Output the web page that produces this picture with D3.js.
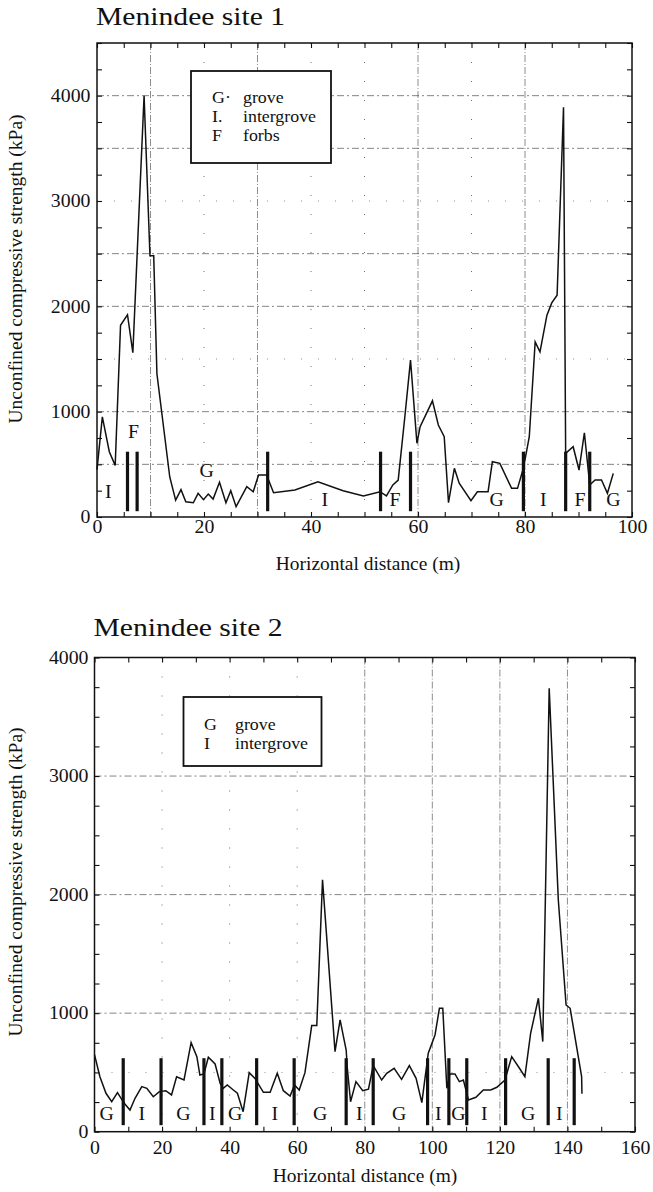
<!DOCTYPE html>
<html>
<head>
<meta charset="utf-8">
<script src="https://cdn.jsdelivr.net/npm/d3@7"></script>
<style>
  body { margin: 0; background: #fff; }
  svg { display: block; background: #fff; }
  text { font-family: "Liberation Serif", "Times New Roman", serif; fill: #111; }
</style>
</head>
<body>
<svg id="chart" width="653" height="1192"></svg>
<script>
// ---- Menindee site 1: transect readings ----
const site1Distance = [0, 1.0, 2.3, 3.4, 4.4, 5.7, 6.7, 8.8, 9.9, 10.6, 11.2, 13.6, 14.7, 15.7, 16.6, 18.0,
  18.9, 19.9, 20.8, 21.7, 22.9, 24.1, 25.0, 26.0, 28.0, 29.2, 30.2, 31.7, 33.0, 37.0, 41.3, 46.0, 49.8,
  52.9, 54.1, 55.3, 56.3, 57.6, 58.6, 59.8, 60.4, 62.7, 63.8, 64.9, 65.7, 66.8, 67.7, 69.9, 71.1, 73.1,
  73.9, 75.3, 77.5, 78.6, 79.7, 80.8, 81.9, 82.8, 84.1, 85.0, 86.0, 87.2, 87.6, 89.0, 90.1, 91.1, 92.1,
  93.1, 94.3, 95.4, 96.5];
const site1Strength = [450, 950, 620, 490, 1820, 1920, 1560, 4000, 2480, 2480, 1360, 380, 160, 260, 145, 135,
  225, 165, 218, 170, 330, 135, 250, 98, 288, 240, 398, 398, 230, 256, 335, 250, 200,
  240, 200, 304, 350, 980, 1490, 700, 857, 1103, 873, 762, 136, 462, 320, 155, 240, 240,
  525, 509, 272, 272, 462, 762, 1663, 1568, 1916, 2033, 2106, 3890, 604, 667, 446, 800, 304,
  351, 351, 225, 414];
const site1Boundaries = [5.7, 7.5, 31.9, 53.0, 58.6, 79.7, 87.6, 92.1];
const site1ZoneCodes = ["I", "F", "G", "I", "F", "G", "I", "F", "G"];
const site1ZoneDistance = [2.1, 6.8, 20.5, 42.6, 55.7, 74.7, 83.4, 90.3, 96.5];
const site1ZoneLevel = [180, 750, 380, 100, 100, 100, 100, 100, 100];
const site1LegendCodes = ["G·", "I.", "F"];
const site1LegendNames = ["grove", "intergrove", "forbs"];
const site1XLabels = [0, 20, 40, 60, 80, 100];
const site1YLabels = [0, 1000, 2000, 3000, 4000];

// ---- Menindee site 2: transect readings ----
const site2Distance = [0, 1.6, 3.4, 5.1, 6.8, 8.2, 9.0, 10.5, 12.0, 14.0, 15.5, 17.4, 19.2, 21.1, 22.8, 24.3,
  26.5, 28.6, 30.3, 31.2, 32.4, 33.7, 35.7, 37.2, 38.1, 39.3, 41.1, 42.3, 44.0, 45.8, 47.5, 50.0, 52.0,
  54.1, 55.9, 57.9, 59.2, 60.6, 62.3, 64.3, 65.8, 67.5, 71.2, 72.7, 74.5, 74.8, 75.8, 77.4, 79.4, 81.1,
  82.5, 85.0, 86.5, 88.7, 90.9, 93.2, 95.2, 96.9, 98.8, 100.8, 102.1, 103.1, 104.3, 105.2, 106.7, 108.0,
  109.2, 110.7, 112.9, 115.1, 117.3, 119.1, 121.5, 123.5, 125.8, 127.4, 129.1, 131.4, 132.7, 134.6,
  137.3, 139.6, 140.8, 144.2, 144.3];
const site2Strength = [650, 464, 324, 253, 329, 267, 234, 183, 282, 380, 366, 295, 338, 346, 310, 464,
  436, 751, 633, 478, 487, 628, 571, 408, 366, 394, 352, 324, 169, 498, 450, 332, 332,
  493, 346, 301, 394, 352, 498, 895, 895, 2124, 675, 943, 689, 549, 253, 422, 346, 358,
  557, 436, 493, 535, 442, 557, 450, 245, 662, 816, 1041, 1041, 366, 487, 487, 422,
  436, 267, 290, 352, 352, 375, 436, 633, 535, 464, 830, 1126, 760, 3740,
  1955, 1069, 1041, 464, 320];
const site2Boundaries = [8.5, 19.7, 32.4, 37.7, 48.0, 59.1, 74.5, 82.5, 98.6, 104.9, 110.2, 121.7, 134.3, 142.0];
const site2ZoneCodes = ["G", "I", "G", "I", "G", "I", "G", "I", "G", "I", "G", "I", "G", "I"];
const site2ZoneDistance = [3.6, 14.0, 26.3, 34.9, 41.6, 53.4, 66.8, 78.4, 90.2, 101.8, 107.7, 115.4, 128.4, 137.6];
const site2ZoneLevel = [100, 100, 100, 100, 100, 100, 100, 100, 100, 100, 100, 100, 100, 100];
const site2LegendCodes = ["G", "I"];
const site2LegendNames = ["grove", "intergrove"];
const site2XLabels = [0, 20, 40, 60, 80, 100, 120, 140, 160];
const site2YLabels = [0, 1000, 2000, 3000, 4000];

const boundaryLow = 55, boundaryHigh = 620;
const svg = d3.select("#chart");

function stretchText(sel, x, y, sx) {
  return sel.attr("transform", `translate(${x},${y}) scale(${sx},1)`);
}

function drawPanel(p) {
  const g = svg.append("g");
  const x = d3.scaleLinear().domain(p.xDomain).range([p.left, p.right]);
  const y = d3.scaleLinear().domain(p.yDomain).range([p.bottom, p.top]);

  // grid lines
  const grid = g.append("g").attr("stroke", "#333").attr("fill", "none");
  grid.selectAll(".hg").data(p.gridY).join("line")
    .attr("x1", p.left).attr("x2", p.right)
    .attr("y1", d => y(d)).attr("y2", d => y(d))
    .attr("stroke-width", 0.8).attr("stroke-dasharray", "7,3,2,3").attr("opacity", 0.75);
  grid.selectAll(".hf").data(p.gridYFaint).join("line")
    .attr("x1", p.left).attr("x2", p.right)
    .attr("y1", d => y(d)).attr("y2", d => y(d))
    .attr("stroke-width", 0.8).attr("stroke-dasharray", "1,16").attr("opacity", 0.7);
  grid.selectAll(".vg").data(p.gridX).join("line")
    .attr("y1", p.top).attr("y2", p.bottom)
    .attr("x1", d => x(d)).attr("x2", d => x(d))
    .attr("stroke-width", 0.8).attr("stroke-dasharray", "7,2,1,2").attr("opacity", 0.7);
  grid.selectAll(".vf").data(p.gridXFaint).join("line")
    .attr("y1", p.top).attr("y2", p.bottom)
    .attr("x1", d => x(d)).attr("x2", d => x(d))
    .attr("stroke-width", 0.9).attr("stroke-dasharray", "1,18").attr("opacity", 0.8);

  // axes (inward ticks on all four sides)
  const styleAxis = a => {
    a.select(".domain").remove();
    a.attr("color", "#111");
    a.selectAll("line").attr("stroke-width", 1.1);
  };
  const bottom = g.append("g").attr("transform", `translate(0,${p.bottom})`)
    .call(d3.axisBottom(x).tickValues(d3.range(p.xDomain[0], p.xDomain[1] + 0.001, p.xMinor))
      .tickSize(-5).tickPadding(p.xLabelPad)
      .tickFormat(d => p.xLabels.includes(d) ? d : ""))
    .call(styleAxis);
  bottom.selectAll("text").attr("font-size", 18).attr("font-family", "Liberation Serif, serif")
    .attr("transform", "scale(1.1,1)");
  g.append("g").attr("transform", `translate(0,${p.top})`)
    .call(d3.axisTop(x).tickValues(d3.range(p.xDomain[0], p.xDomain[1] + 0.001, p.xMinor))
      .tickSize(-5).tickFormat(""))
    .call(styleAxis);
  const left = g.append("g").attr("transform", `translate(${p.left},0)`)
    .call(d3.axisLeft(y).tickValues(d3.range(p.yDomain[0], p.yDomain[1] + 0.001, 250))
      .tickSize(-5).tickPadding(p.yLabelPad)
      .tickFormat(d => p.yLabels.includes(d) ? d : ""))
    .call(styleAxis);
  left.selectAll("text").attr("font-size", 18).attr("font-family", "Liberation Serif, serif")
    .attr("transform", "scale(1.1,1)");
  g.append("g").attr("transform", `translate(${p.right},0)`)
    .call(d3.axisRight(y).tickValues(d3.range(p.yDomain[0], p.yDomain[1] + 0.001, 250))
      .tickSize(-5).tickFormat(""))
    .call(styleAxis);

  // frame
  g.append("rect")
    .attr("x", p.left).attr("y", p.top)
    .attr("width", p.right - p.left).attr("height", p.bottom - p.top)
    .attr("fill", "none").attr("stroke", "#111").attr("stroke-width", 1.5);

  // strength profile
  const pts = p.distance.map((d, i) => [d, p.strength[i]]);
  g.append("path").datum(pts)
    .attr("fill", "none").attr("stroke", "#111").attr("stroke-width", 1.5)
    .attr("stroke-linejoin", "miter")
    .attr("d", d3.line().x(d => x(d[0])).y(d => y(d[1])));

  // zone boundaries
  g.selectAll(".bd").data(p.boundaries).join("line")
    .attr("x1", d => x(d)).attr("x2", d => x(d))
    .attr("y1", y(boundaryLow)).attr("y2", y(boundaryHigh))
    .attr("stroke", "#111").attr("stroke-width", 3.2);

  // zone codes
  g.selectAll(".zc").data(p.zoneCodes).join("text")
    .attr("text-anchor", "middle").attr("font-size", 18)
    .attr("transform", (d, i) => `translate(${x(p.zoneDistance[i])},${y(p.zoneLevel[i])}) scale(1.1,1)`)
    .text(d => d);

  // legend
  const lg = g.append("g");
  lg.append("rect")
    .attr("x", p.legend.x).attr("y", p.legend.y)
    .attr("width", p.legend.w).attr("height", p.legend.h)
    .attr("fill", "#fff").attr("stroke", "#111").attr("stroke-width", 1.8);
  p.legendCodes.forEach((c, i) => {
    const by = p.legend.firstBaseline + i * 19;
    stretchText(lg.append("text").attr("font-size", 17), p.legend.codeX, by, 1.05).text(c);
    stretchText(lg.append("text").attr("font-size", 17), p.legend.nameX, by, 1.05).text(p.legendNames[i]);
  });

  // titles
  stretchText(g.append("text").attr("font-size", 26), p.left - 1, p.titleBaseline, 1.14).text(p.title);
  stretchText(g.append("text").attr("font-size", 18).attr("text-anchor", "middle"),
    p.xTitleX, p.xTitleBaseline, 1.08).text("Horizontal distance (m)");
  g.append("text").attr("font-size", 19.5).attr("text-anchor", "middle")
    .attr("transform", `translate(22,${p.yTitleY}) rotate(-90)`)
    .text("Unconfined compressive strength (kPa)");
}

drawPanel({
  title: "Menindee site 1", titleBaseline: 25,
  left: 97, right: 632, top: 43, bottom: 517,
  xDomain: [0, 100], yDomain: [0, 4500], xMinor: 5,
  xLabels: site1XLabels, yLabels: site1YLabels, xLabelPad: 3, yLabelPad: 6,
  gridY: [500, 1000, 2000, 2500, 3500, 4000], gridYFaint: [1500, 3000],
  gridX: [10, 30, 60, 80], gridXFaint: [20, 40, 50, 70],
  distance: site1Distance, strength: site1Strength, boundaries: site1Boundaries,
  zoneCodes: site1ZoneCodes, zoneDistance: site1ZoneDistance, zoneLevel: site1ZoneLevel,
  legendCodes: site1LegendCodes, legendNames: site1LegendNames,
  legend: { x: 191, y: 71, w: 140, h: 92, firstBaseline: 103, codeX: 212, nameX: 243 },
  xTitleX: 368, xTitleBaseline: 570, yTitleY: 269
});

drawPanel({
  title: "Menindee site 2", titleBaseline: 636,
  left: 94.5, right: 635, top: 657.5, bottom: 1131.7,
  xDomain: [0, 160], yDomain: [0, 4000], xMinor: 10,
  xLabels: site2XLabels, yLabels: site2YLabels, xLabelPad: 10, yLabelPad: 5.5,
  gridY: [1000, 2000, 3000], gridYFaint: [500],
  gridX: [80, 100, 120, 140], gridXFaint: [20, 40, 60],
  distance: site2Distance, strength: site2Strength, boundaries: site2Boundaries,
  zoneCodes: site2ZoneCodes, zoneDistance: site2ZoneDistance, zoneLevel: site2ZoneLevel,
  legendCodes: site2LegendCodes, legendNames: site2LegendNames,
  legend: { x: 183.5, y: 697, w: 138, h: 69, firstBaseline: 730, codeX: 204, nameX: 235 },
  xTitleX: 365, xTitleBaseline: 1182, yTitleY: 882
});
</script>
</body>
</html>
